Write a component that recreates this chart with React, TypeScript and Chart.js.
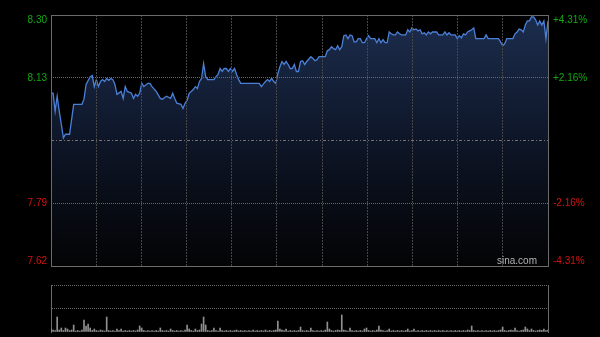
import React, { useEffect, useRef } from 'react';
import { Chart, registerables } from 'chart.js';

Chart.register(...registerables);

// Intraday minute index (0..241) and price
const minutes = [
  0, 1, 2, 3, 4, 5, 6, 7, 9, 11,
  15, 16, 17, 19, 20, 21, 22, 23, 24, 25,
  26, 27, 28, 29, 30, 31, 32, 34, 35, 36,
  37, 39, 40, 41, 42, 43, 44, 45, 47, 48,
  49, 51, 53, 54, 56, 58, 59, 60, 61, 63,
  64, 65, 66, 67, 68, 69, 70, 71, 72, 73,
  74, 75, 76, 79, 80, 81, 82, 83, 84, 85,
  86, 87, 88, 89, 90, 91, 92, 101, 102, 104,
  105, 106, 107, 108, 109, 110, 111, 112, 113, 114,
  115, 116, 117, 118, 119, 120, 121, 122, 123, 124,
  126, 127, 128, 129, 130, 133, 134, 135, 136, 137,
  138, 139, 140, 141, 142, 143, 144, 145, 146, 147,
  148, 149, 150, 151, 152, 153, 154, 155, 157, 158,
  159, 160, 161, 162, 163, 164, 165, 166, 167, 168,
  169, 170, 171, 172, 173, 174, 175, 176, 177, 178,
  179, 180, 181, 182, 183, 184, 185, 187, 188, 190,
  191, 192, 193, 194, 196, 197, 198, 199, 200, 201,
  202, 203, 204, 205, 206, 210, 211, 212, 217, 218,
  219, 220, 221, 224, 225, 226, 227, 228, 229, 230,
  231, 232, 233, 234, 235, 236, 237, 238, 239, 240,
  241,
];

const prices = [
  8.088, 8.088, 8.039, 8.080, 8.039, 8.004, 7.967, 7.977, 7.977, 8.058,
  8.058, 8.072, 8.112, 8.133, 8.136, 8.106, 8.125, 8.106, 8.120, 8.125,
  8.120, 8.128, 8.123, 8.128, 8.125, 8.112, 8.085, 8.093, 8.074, 8.106,
  8.093, 8.088, 8.074, 8.085, 8.080, 8.088, 8.115, 8.106, 8.115, 8.115,
  8.106, 8.093, 8.074, 8.072, 8.080, 8.074, 8.088, 8.074, 8.061, 8.058,
  8.047, 8.061, 8.069, 8.088, 8.093, 8.098, 8.106, 8.101, 8.120, 8.128,
  8.168, 8.133, 8.125, 8.125, 8.133, 8.139, 8.155, 8.147, 8.155, 8.155,
  8.147, 8.155, 8.147, 8.155, 8.139, 8.125, 8.115, 8.115, 8.106, 8.120,
  8.125, 8.120, 8.128, 8.120, 8.115, 8.141, 8.160, 8.174, 8.166, 8.174,
  8.166, 8.155, 8.155, 8.166, 8.147, 8.147, 8.174, 8.176, 8.166, 8.174,
  8.187, 8.182, 8.176, 8.179, 8.187, 8.187, 8.203, 8.206, 8.214, 8.209,
  8.206, 8.217, 8.206, 8.214, 8.244, 8.246, 8.236, 8.246, 8.244, 8.227,
  8.227, 8.236, 8.236, 8.225, 8.225, 8.236, 8.244, 8.236, 8.236, 8.225,
  8.236, 8.225, 8.233, 8.225, 8.225, 8.254, 8.249, 8.246, 8.246, 8.254,
  8.249, 8.246, 8.246, 8.246, 8.260, 8.254, 8.265, 8.260, 8.262, 8.257,
  8.260, 8.249, 8.252, 8.246, 8.254, 8.249, 8.254, 8.254, 8.246, 8.246,
  8.254, 8.246, 8.252, 8.246, 8.246, 8.236, 8.244, 8.238, 8.249, 8.246,
  8.254, 8.257, 8.260, 8.265, 8.236, 8.236, 8.246, 8.236, 8.236, 8.227,
  8.217, 8.222, 8.236, 8.236, 8.249, 8.254, 8.262, 8.260, 8.254, 8.273,
  8.284, 8.284, 8.295, 8.295, 8.287, 8.273, 8.284, 8.273, 8.284, 8.236,
  8.284,
];

// Volume per minute (0..241)
const volumes = [
  300, 200, 150, 1500, 200, 400, 150, 400, 300, 150, 200, 700, 100, 150, 100, 200, 1200, 600, 800, 400,
  150, 300, 150, 100, 200, 150, 100, 1500, 150, 100, 150, 100, 300, 150, 300, 100, 150, 100, 150, 100,
  150, 100, 200, 600, 400, 150, 100, 150, 100, 150, 100, 150, 100, 400, 150, 100, 150, 100, 300, 150,
  100, 150, 100, 150, 100, 200, 700, 300, 150, 100, 300, 150, 200, 800, 1500, 700, 150, 100, 150, 400,
  150, 100, 400, 150, 100, 150, 100, 150, 100, 150, 200, 100, 150, 100, 150, 100, 150, 100, 200, 100,
  150, 100, 150, 100, 200, 100, 150, 100, 150, 200, 1100, 300, 200, 150, 300, 100, 150, 100, 150, 100,
  150, 500, 150, 100, 150, 100, 400, 150, 100, 150, 100, 150, 100, 200, 1000, 300, 150, 100, 150, 200,
  150, 1700, 200, 150, 100, 400, 150, 100, 150, 100, 150, 100, 300, 400, 150, 100, 150, 100, 200, 600,
  200, 150, 100, 150, 300, 100, 150, 100, 150, 100, 150, 100, 150, 300, 100, 150, 300, 100, 150, 100,
  150, 100, 150, 100, 150, 100, 150, 100, 150, 100, 150, 100, 150, 100, 150, 100, 150, 100, 150, 100,
  150, 100, 200, 150, 600, 150, 100, 150, 100, 150, 100, 150, 100, 150, 100, 150, 100, 150, 200, 500,
  150, 100, 150, 200, 150, 400, 150, 100, 150, 200, 500, 300, 150, 300, 150, 100, 150, 200, 150, 300, 150, 200,
];

const prevClose = 7.96;
const priceTicks = [7.62, 7.79, 7.96, 8.13, 8.30];
const leftTickLabels = ['7.62', '7.79', '', '8.13', '8.30'];
const rightTickLabels = ['-4.31%', '-2.16%', '', '+2.16%', '+4.31%'];
const volumeTicks = [0, 2350, 4700];
const sessionMinutes = 241;
const timeSections = 11;
const watermark = 'sina.com';

const FONT = 'Arial, "Liberation Sans", sans-serif';
const GREEN = '#12a812';
const RED = '#d41212';
const TRANSPARENT = 'rgba(0,0,0,0)';

const tickIndex = (v: number) => priceTicks.findIndex((t) => Math.abs(t - v) < 1e-6);

const edgeLabel = (label: string, v: number): string | string[] => {
  if (!label) return '';
  if (Math.abs(v - priceTicks[priceTicks.length - 1]) < 1e-6) return ['', label];
  if (Math.abs(v - priceTicks[0]) < 1e-6) return [label, ''];
  return label;
};

const framePlugin = {
  id: 'frame',
  afterDraw(chart: any, _args: any, opts: any) {
    const { ctx, chartArea } = chart;
    if (!chartArea || !opts || !opts.enabled) return;
    const x0 = Math.round(chartArea.left) + 0.5;
    const y0 = Math.round(chartArea.top) + 0.5;
    const x1 = Math.round(chartArea.right) + 0.5;
    const y1 = Math.round(chartArea.bottom) + 0.5;
    ctx.save();
    ctx.strokeStyle = '#6a6a6a';
    ctx.lineWidth = 1;
    ctx.strokeRect(x0, y0, x1 - x0, y1 - y0);
    ctx.restore();
  },
};

const watermarkPlugin = {
  id: 'watermark',
  afterDraw(chart: any, _args: any, opts: any) {
    const { ctx, chartArea } = chart;
    if (!chartArea || !opts || !opts.text) return;
    ctx.save();
    ctx.font = '10px ' + FONT;
    ctx.textAlign = 'right';
    ctx.textBaseline = 'middle';
    ctx.fillStyle = '#000';
    ctx.fillText(opts.text, chartArea.right - 10, chartArea.bottom - 4);
    ctx.fillStyle = '#b4b4b4';
    ctx.fillText(opts.text, chartArea.right - 11, chartArea.bottom - 5);
    ctx.restore();
  },
};

export default function App() {
  const priceRef = useRef<HTMLCanvasElement>(null);
  const volRef = useRef<HTMLCanvasElement>(null);

  useEffect(() => {
    if (!priceRef.current || !volRef.current) return;

    const priceData = minutes.map((m, i) => ({ x: m, y: prices[i] }));
    const closeData = [
      { x: 0, y: prevClose },
      { x: sessionMinutes, y: prevClose },
    ];

    const priceChart = new Chart(priceRef.current, {
      type: 'line',
      data: {
        datasets: [
          {
            data: priceData,
            borderColor: '#4b80d8',
            borderWidth: 1.3,
            pointRadius: 0,
            tension: 0,
            fill: 'start',
            order: 2,
            backgroundColor: (c: any) => {
              const { chart } = c;
              const area = chart.chartArea;
              if (!area) return TRANSPARENT;
              const g = chart.ctx.createLinearGradient(0, area.top, 0, area.bottom);
              g.addColorStop(0, '#1c2d4e');
              g.addColorStop(0.5, '#0e1628');
              g.addColorStop(0.75, '#080c15');
              g.addColorStop(1, '#030405');
              return g;
            },
          },
          {
            data: closeData,
            borderColor: '#747474',
            borderWidth: 1,
            borderDash: [3, 2, 1, 2],
            pointRadius: 0,
            fill: false,
            order: 1,
          },
        ],
      } as any,
      options: {
        responsive: false,
        animation: false,
        events: [],
        layout: { padding: { top: 13, bottom: 71, left: 0, right: 0 } },
        plugins: {
          legend: { display: false },
          tooltip: { enabled: false },
          frame: { enabled: true },
          watermark: { text: watermark },
        } as any,
        scales: {
          x: {
            type: 'linear',
            min: 0,
            max: sessionMinutes,
            offset: false,
            ticks: { display: false },
            afterBuildTicks: (scale: any) => {
              scale.ticks = Array.from({ length: timeSections + 1 }, (_, i) => ({
                value: (i * sessionMinutes) / timeSections,
              }));
            },
            afterFit: (scale: any) => {
              scale.height = 0;
            },
            grid: {
              z: 1,
              drawTicks: false,
              color: (c: any) =>
                c.index === 0 || c.index === timeSections ? TRANSPARENT : '#464646',
            },
            border: { display: false, dash: [2, 1] },
          },
          y: {
            type: 'linear',
            position: 'left',
            min: priceTicks[0],
            max: priceTicks[priceTicks.length - 1],
            afterBuildTicks: (scale: any) => {
              scale.ticks = priceTicks.map((v) => ({ value: v }));
            },
            afterFit: (scale: any) => {
              scale.width = 51;
            },
            grid: {
              z: 1,
              drawTicks: false,
              color: (c: any) => {
                const v = c.tick ? c.tick.value : 0;
                const i = tickIndex(v);
                if (i <= 0 || i === priceTicks.length - 1 || Math.abs(v - prevClose) < 1e-6)
                  return TRANSPARENT;
                return '#686868';
              },
            },
            border: { display: false, dash: [1, 1] },
            ticks: {
              padding: 4,
              autoSkip: false,
              font: { family: FONT, size: 10, lineHeight: 1.0 },
              color: (c: any) => (c.tick && c.tick.value > prevClose ? GREEN : RED),
              callback: (v: any) => {
                const i = tickIndex(Number(v));
                return i < 0 ? '' : edgeLabel(leftTickLabels[i], Number(v));
              },
            },
          },
          y1: {
            type: 'linear',
            position: 'right',
            min: priceTicks[0],
            max: priceTicks[priceTicks.length - 1],
            afterBuildTicks: (scale: any) => {
              scale.ticks = priceTicks.map((v) => ({ value: v }));
            },
            afterFit: (scale: any) => {
              scale.width = 52;
            },
            grid: { display: false, drawTicks: false },
            border: { display: false },
            ticks: {
              padding: 5,
              autoSkip: false,
              font: { family: FONT, size: 10, lineHeight: 1.0 },
              color: (c: any) => (c.tick && c.tick.value > prevClose ? GREEN : RED),
              callback: (v: any) => {
                const i = tickIndex(Number(v));
                return i < 0 ? '' : edgeLabel(rightTickLabels[i], Number(v));
              },
            },
          },
        },
      } as any,
      plugins: [framePlugin, watermarkPlugin],
    });

    const volChart = new Chart(volRef.current, {
      type: 'bar',
      data: {
        datasets: [
          {
            data: volumes.map((v, i) => ({ x: i, y: v })),
            backgroundColor: '#909090',
            barThickness: 1,
            grouped: false,
          },
        ],
      } as any,
      options: {
        responsive: false,
        animation: false,
        events: [],
        layout: { padding: { top: 285, bottom: 5, left: 0, right: 0 } },
        plugins: {
          legend: { display: false },
          tooltip: { enabled: false },
        },
        scales: {
          x: {
            type: 'linear',
            min: 0,
            max: sessionMinutes,
            offset: false,
            display: false,
          },
          y: {
            type: 'linear',
            position: 'left',
            min: volumeTicks[0],
            max: volumeTicks[volumeTicks.length - 1],
            afterBuildTicks: (scale: any) => {
              scale.ticks = volumeTicks.map((v) => ({ value: v }));
            },
            afterFit: (scale: any) => {
              scale.width = 51;
            },
            ticks: { display: false },
            grid: {
              drawTicks: false,
              color: (c: any) => (c.tick && c.tick.value > 0 ? '#686868' : TRANSPARENT),
            },
            border: { display: true, color: '#6a6a6a', dash: [1, 1] },
          },
          y1: {
            type: 'linear',
            position: 'right',
            min: volumeTicks[0],
            max: volumeTicks[volumeTicks.length - 1],
            afterFit: (scale: any) => {
              scale.width = 52;
            },
            ticks: { display: false },
            grid: { display: false, drawTicks: false },
            border: { display: true, color: '#6a6a6a' },
          },
        },
      } as any,
    });

    return () => {
      priceChart.destroy();
      volChart.destroy();
    };
  }, []);

  return (
    <div
      style={{
        position: 'fixed',
        left: 0,
        top: 0,
        width: 600,
        height: 337,
        background: '#000',
        overflow: 'hidden',
      }}
    >
      <canvas
        ref={priceRef}
        width={600}
        height={337}
        style={{ position: 'absolute', left: 0, top: 0 }}
      />
      <canvas
        ref={volRef}
        width={600}
        height={337}
        style={{ position: 'absolute', left: 0, top: 0 }}
      />
    </div>
  );
}
